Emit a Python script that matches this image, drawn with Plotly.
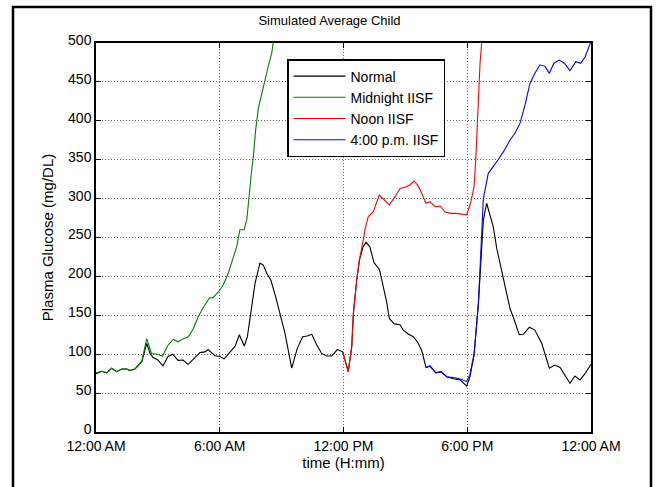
import plotly.graph_objects as go

# ---- data (hours since midnight, plasma glucose mg/dL) ----
normal_hours = [0.0, 0.28, 0.52, 0.76, 1.0, 1.25, 1.49, 1.65, 1.89, 2.22, 2.46, 2.62, 2.76, 3.0,
                3.25, 3.49, 3.72, 3.98, 4.22, 4.46, 4.7, 5.04, 5.28, 5.43, 5.77, 6.01, 6.21, 6.5,
                6.74, 6.95, 7.19, 7.34, 7.5, 7.71, 7.95, 8.11, 8.28, 8.48, 8.71, 8.92, 9.16, 9.49,
                9.76, 10.02, 10.24, 10.46, 10.7, 10.94, 11.19, 11.43, 11.7, 11.96, 12.07, 12.23,
                12.4, 12.48, 12.64, 12.77, 12.95, 13.09, 13.28, 13.48, 13.74, 13.93, 14.09, 14.22,
                14.46, 14.74, 14.9, 15.14, 15.38, 15.58, 15.79, 16.0, 16.19, 16.48, 16.73, 17.0,
                17.32, 17.65, 17.97, 18.13, 18.33, 18.54, 18.78, 18.94, 19.26, 19.43, 19.72, 20.07,
                20.28, 20.52, 20.72, 21.01, 21.28, 21.61, 21.98, 22.25, 22.5, 22.74, 22.98, 23.22,
                23.47, 23.71, 24.0]
normal_glucose = [75, 78, 76, 82, 77.5, 81, 81, 79, 81, 90, 114, 101, 96, 92.5,
                  85, 97, 100, 92, 92.5, 87, 93, 102, 103, 106, 98, 97, 94, 102,
                  110, 125, 110.5, 122.5, 152.5, 191, 217, 214.6, 204, 195, 174, 152.5, 127, 82,
                  107.5, 122.5, 123.4, 125.6, 112, 101, 97.7, 97.7, 106, 103, 92.5, 77.5,
                  110, 152.5, 195, 221, 238, 244, 238, 217.6, 209, 187, 167.5, 146,
                  139, 138, 131, 126, 122.5, 116, 105, 83, 85, 76, 77.5, 71,
                  68.5, 67, 59, 71, 99, 165, 272, 294, 264, 236, 199.6, 159,
                  144, 125, 125.6, 134.6, 131, 114, 82, 86, 83, 73, 62.6, 72,
                  67, 75, 87]

midnight_hours = [0.0, 0.28, 0.52, 0.76, 1.0, 1.25, 1.49, 1.65, 1.89, 2.22, 2.46, 2.69, 2.94,
                  3.23, 3.5, 3.75, 3.99, 4.23, 4.48, 4.72, 4.96, 5.2, 5.49, 5.69, 5.93, 6.17,
                  6.41, 6.66, 6.82, 6.98, 7.18, 7.31, 7.43, 7.55, 7.63, 7.74, 7.87, 8.03, 8.19,
                  8.35, 8.52, 8.6, 8.7]
midnight_glucose = [76, 78, 76, 82, 77.5, 81, 81, 79, 81, 91, 120, 101, 100,
                    97.7, 112, 119, 116, 120, 122.5, 133, 148, 160, 172, 173, 180, 189,
                    204, 223, 238, 260, 260, 272.5, 307, 337, 354, 388, 416, 435, 452,
                    469.5, 487, 500, 520]

noon_hours = [11.96, 12.07, 12.23, 12.4, 12.48, 12.64, 12.77, 12.96, 13.04, 13.2, 13.44, 13.74,
              14.01, 14.22, 14.5, 14.74, 14.98, 15.22, 15.42, 15.63, 15.79, 16.0, 16.19, 16.44,
              16.68, 16.92, 17.16, 17.45, 17.73, 17.97, 18.16, 18.33, 18.42, 18.5, 18.62, 18.7,
              18.75]
noon_glucose = [103, 92.5, 77.5, 110, 152.5, 195, 221, 247, 260, 277, 283, 304.6,
                298, 292, 302.5, 313, 314.5, 317.5, 322.6, 316, 307, 294, 296, 289.6,
                290.5, 283, 281, 281, 280, 279, 294, 315, 354, 410, 474, 500,
                540]

pm4_hours = [16.0, 16.19, 16.48, 16.73, 17.0, 17.32, 17.65, 17.97, 18.13, 18.33, 18.54, 18.7,
             18.78, 19.02, 19.26, 19.5, 19.75, 20.07, 20.31, 20.56, 20.8, 21.04, 21.28, 21.53,
             21.77, 21.98, 22.2, 22.46, 22.71, 22.98, 23.27, 23.5, 23.71, 23.92, 24.0]
pm4_glucose = [83, 85, 76, 77.5, 71, 70, 68, 65, 74, 100, 165, 268,
               300, 332.5, 341, 350, 360, 375, 384, 397, 420, 448, 461, 472,
               470, 461, 474, 478, 474, 464.5, 476, 474, 482, 498.7, 502]

x_tickvals = [0, 6, 12, 18, 24]
x_ticktext = ["12:00 AM", "6:00 AM", "12:00 PM", "6:00 PM", "12:00 AM"]

FONT = "Liberation Sans, Arial, Helvetica, sans-serif"

fig = go.Figure()
series = [
    ("Normal", normal_hours, normal_glucose, "#000000"),
    ("Midnight IISF", midnight_hours, midnight_glucose, "#008000"),
    ("Noon IISF", noon_hours, noon_glucose, "#ff0000"),
    ("4:00 p.m. IISF", pm4_hours, pm4_glucose, "#0000ff"),
]
for name, xs, ys, col in series:
    fig.add_trace(go.Scatter(x=xs, y=ys, mode="lines", name=name,
                             line=dict(color=col, width=1.1)))

axis_common = dict(
    showline=True, linecolor="black", linewidth=1.5, mirror="ticks",
    ticks="inside", ticklen=5, tickcolor="black", tickwidth=1,
    showgrid=True, gridcolor="rgba(0,0,0,0.6)", griddash="1px,2px", gridwidth=1,
    zeroline=False, tickfont=dict(family=FONT, size=14, color="black"),
)

fig.update_xaxes(range=[0, 24], tickvals=x_tickvals, ticktext=x_ticktext,
                 title=dict(text="time (H:mm)", font=dict(family=FONT, size=15, color="black"),
                            standoff=5),
                 **axis_common)
fig.update_yaxes(range=[0, 500], dtick=50, tick0=0, ticklabelshift=-3,
                 title=dict(text="Plasma Glucose (mg/DL)",
                            font=dict(family=FONT, size=15, color="black"), standoff=11),
                 **axis_common)

fig.update_layout(
    width=659, height=487,
    margin=dict(l=96, r=68, t=43, b=55),
    paper_bgcolor="white", plot_bgcolor="white",
    font=dict(family=FONT, size=14, color="black"),
    title=dict(text="Simulated Average Child", x=0.5, xanchor="center",
               y=1 - 20 / 487, yanchor="middle",
               font=dict(family=FONT, size=13, color="black")),
    legend=dict(x=(287 - 96) / 495, y=(432 - 59) / 389, xanchor="left", yanchor="top",
                bgcolor="white", bordercolor="black", borderwidth=1.5,
                font=dict(family=FONT, size=14, color="black"),
                tracegroupgap=0, itemwidth=52),
    showlegend=True,
    shapes=[dict(type="rect", xref="paper", yref="paper",
                 x0=(13 - 96) / 495, x1=(651 - 96) / 495,
                 y0=(432 - 520) / 389, y1=(432 - 7) / 389,
                 line=dict(color="black", width=2.5), fillcolor="rgba(0,0,0,0)",
                 layer="below")],
)

fig.write_html("out.html", config={"displayModeBar": False},
               post_script="document.body.style.margin='0';document.body.style.overflow='hidden';")
